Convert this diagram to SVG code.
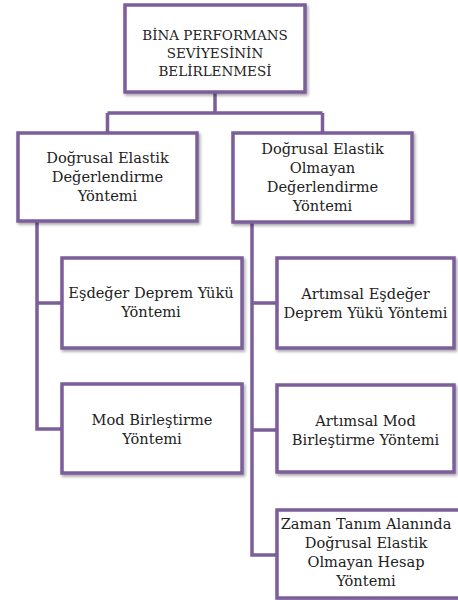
<svg xmlns="http://www.w3.org/2000/svg" width="458" height="600" viewBox="0 0 458 600">
<defs>
<filter id="sh" x="-10%" y="-10%" width="120%" height="130%">
<feDropShadow dx="1.5" dy="2" stdDeviation="1.5" flood-color="#000" flood-opacity="0.35"/>
</filter>
</defs>
<style>
.box{fill:#fff;stroke:#7B5E9A;stroke-width:3.5;filter:url(#sh)}
.con{fill:none;stroke:#7B5E9A;stroke-width:3.5}
text{font-family:"DejaVu Serif","Liberation Serif",serif;font-size:14.6px;fill:#222;text-anchor:middle}
.root text{font-size:13.5px}
</style>
<rect width="458" height="600" fill="#fff"/>
<g id="connectors">
<path class="con" d="M215,92V113M107.5,113H322.5M107.5,113V133M322.5,113V133"/>
<path class="con" d="M37,221V429H62M37,303H62"/>
<path class="con" d="M252,222V555H277M252,303H277M252,430H277"/>
</g>
<g id="root" class="root">
<rect class="box" x="125" y="5" width="180" height="87"/>
<text x="215" y="40">BİNA PERFORMANS</text>
<text x="215" y="58">SEVİYESİNİN</text>
<text x="215" y="76">BELİRLENMESİ</text>
</g>
<g id="linear">
<rect class="box" x="18" y="133" width="179" height="88"/>
<text x="107.5" y="163">Doğrusal Elastik</text>
<text x="107.5" y="182">Değerlendirme</text>
<text x="107.5" y="201">Yöntemi</text>
</g>
<g id="nonlinear">
<rect class="box" x="233" y="133" width="179" height="89"/>
<text x="322.5" y="154">Doğrusal Elastik</text>
<text x="322.5" y="173">Olmayan</text>
<text x="322.5" y="192">Değerlendirme</text>
<text x="322.5" y="211">Yöntemi</text>
</g>
<g id="esdeger">
<rect class="box" x="62" y="258" width="180" height="90"/>
<text x="151" y="298">Eşdeğer Deprem Yükü</text>
<text x="151" y="317">Yöntemi</text>
</g>
<g id="mod">
<rect class="box" x="62" y="384" width="180" height="89"/>
<text x="152" y="425">Mod Birleştirme</text>
<text x="152" y="444">Yöntemi</text>
</g>
<g id="artimsal-esdeger">
<rect class="box" x="277" y="258" width="177" height="90"/>
<text x="365.5" y="299">Artımsal Eşdeğer</text>
<text x="365.5" y="318">Deprem Yükü Yöntemi</text>
</g>
<g id="artimsal-mod">
<rect class="box" x="277" y="385" width="177" height="87"/>
<text x="365.5" y="426">Artımsal Mod</text>
<text x="365.5" y="445">Birleştirme Yöntemi</text>
</g>
<g id="zaman">
<rect class="box" x="277" y="510" width="190" height="88"/>
<text x="366" y="529">Zaman Tanım Alanında</text>
<text x="366" y="548">Doğrusal Elastik</text>
<text x="366" y="567">Olmayan Hesap</text>
<text x="366" y="585.5">Yöntemi</text>
</g>
</svg>
